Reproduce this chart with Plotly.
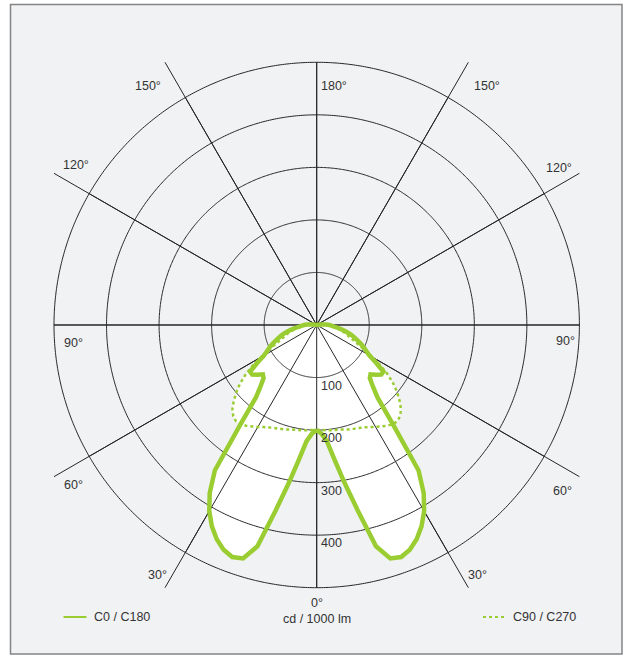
import numpy as np
import plotly.graph_objects as go

# ---------------- data ----------------
GAMMA = [0, 2.5, 5, 7.5, 10, 12.5, 15, 17.5, 20, 22.5, 25, 27.5, 30, 32.5, 35,
         37.5, 40, 42.5, 45, 47.5, 50, 52.5, 55, 57.5, 60, 62.5, 65, 67.5, 70,
         72.5, 75, 77.5, 80, 82.5, 85, 87.5, 90, 92.5, 95, 97.5, 100, 105, 120,
         150, 180]
C0_C180 = [200, 207, 222, 258, 305, 362, 436, 466, 470, 463, 450, 432, 409, 379,
           338, 238, 180, 158, 143, 139, 147, 155, 155, 134, 116, 106, 98, 89, 81,
           73, 66, 57, 48, 40, 33, 28, 24, 18, 12, 7, 4, 0, 0, 0, 0]
C90_C270 = [200, 200, 201, 202, 203, 204, 206, 208, 210, 212, 215, 219, 224, 229,
            234, 238, 239, 235, 227, 214, 200, 184, 166, 145, 122, 102, 87, 75, 66,
            60, 54, 47, 41, 36, 31, 26, 21, 15, 10, 6, 3, 0, 0, 0, 0]
RING_VALUES = [100, 200, 300, 400, 500]
RING_LABELS = ["100", "200", "300", "400"]
SPOKE_ANGLES = [0, 30, 60, 90, 120, 150, 180, 210, 240, 270, 300, 330]
ANGLE_LABELS = ["0°", "30°", "30°", "60°", "60°", "90°", "90°", "120°", "120°",
                "150°", "150°", "180°"]
SERIES_NAMES = ["C0 / C180", "C90 / C270"]
UNIT_LABEL = "cd / 1000 lm"
R_MAX = 500

# ---------------- layout constants ----------------
W, H = 623, 656
CX, CY, RAD = 316.7, 325.0, 262.7      # centre and pixel radius of the 500 ring
R_RANGE = 506                           # small headroom so the outer ring is not clipped
RAD_DOM = RAD * R_RANGE / R_MAX
GREEN = "#9acd32"
GRID = "#262626"
TXT = "#333333"
BG = "#f1f2f4"
FONT = "Liberation Sans, Arial, sans-serif"
FS = 12.5
# pixel centres of the angle labels (same order as ANGLE_LABELS)
LABEL_POS = [(316.5, 603), (157, 575), (477, 575), (73, 485), (562, 490.5),
             (73, 343), (565, 340.5), (76, 165), (559, 168), (147.5, 86),
             (486.5, 85.5), (334, 85.5)]


def px(x):
    return x / W


def py(y):
    return 1 - y / H


def mirrored(values):
    """C0 on the right (theta=+gamma), C180 on the left (theta=-gamma)."""
    th = list(GAMMA) + [-g for g in reversed(GAMMA)]
    r = list(values) + list(reversed(values))
    return th, r


fig = go.Figure()

# spokes reaching out to the square around the outer ring (cartesian layer, below polar)
cx_s, cy_s = [], []
sp_r, sp_th = [], []
for a in SPOKE_ANGLES:
    rad = np.deg2rad(a)
    reach = R_MAX / max(abs(np.sin(rad)), abs(np.cos(rad)))
    cx_s += [0, reach * np.sin(rad), None]
    cy_s += [0, -reach * np.cos(rad), None]
    sp_r += [0, R_MAX, None]
    sp_th += [a, a, None]
fig.add_trace(go.Scatter(x=cx_s, y=cy_s, mode="lines", line=dict(color=GRID, width=1),
                         hoverinfo="skip", showlegend=False, cliponaxis=False))

th0, r0 = mirrored(C0_C180)
th90, r90 = mirrored(C90_C270)

# white fills
for th, r in ((th90, r90), (th0, r0)):
    fig.add_trace(go.Scatterpolar(r=r, theta=th, mode="lines", fill="toself",
                                  fillcolor="white", line=dict(width=0, color="white"),
                                  hoverinfo="skip", showlegend=False))

# ring grid
circ_th = np.linspace(0, 360, 721)
for rv in RING_VALUES:
    fig.add_trace(go.Scatterpolar(r=[rv] * len(circ_th), theta=circ_th, mode="lines",
                                  line=dict(color=GRID, width=1), hoverinfo="skip",
                                  showlegend=False))

# spokes inside the rings (above the white fills)
fig.add_trace(go.Scatterpolar(r=sp_r, theta=sp_th, mode="lines",
                              line=dict(color=GRID, width=1), hoverinfo="skip",
                              showlegend=False, connectgaps=False))

# curves
fig.add_trace(go.Scatterpolar(r=r0, theta=th0, mode="lines", name=SERIES_NAMES[0],
                              line=dict(color=GREEN, width=4.5), showlegend=False))
fig.add_trace(go.Scatterpolar(r=r90, theta=th90, mode="lines", name=SERIES_NAMES[1],
                              line=dict(color=GREEN, width=2.5, dash="dot"),
                              showlegend=False))

annotations = []
# ring value labels, just below each ring on the 0° spoke
for v, lab in zip(RING_VALUES, RING_LABELS):
    annotations.append(dict(x=px(CX + 2.0), y=py(CY + v * RAD / R_MAX + 8.3),
                            xref="paper", yref="paper", text=lab, showarrow=False,
                            xanchor="left", yanchor="middle",
                            font=dict(family=FONT, size=FS, color=TXT)))
for lab, (x, y) in zip(ANGLE_LABELS, LABEL_POS):
    annotations.append(dict(x=px(x), y=py(y), xref="paper", yref="paper", text=lab,
                            showarrow=False, xanchor="center", yanchor="middle",
                            font=dict(family=FONT, size=FS, color=TXT)))
annotations.append(dict(x=px(316.5), y=py(619), xref="paper", yref="paper",
                        text=UNIT_LABEL, showarrow=False, xanchor="center",
                        yanchor="middle", font=dict(family=FONT, size=FS, color=TXT)))
annotations.append(dict(x=px(92), y=py(617), xref="paper", yref="paper",
                        text=SERIES_NAMES[0], showarrow=False, xanchor="left",
                        yanchor="middle", font=dict(family=FONT, size=FS, color=TXT)))
annotations.append(dict(x=px(510.5), y=py(617), xref="paper", yref="paper",
                        text=SERIES_NAMES[1], showarrow=False, xanchor="left",
                        yanchor="middle", font=dict(family=FONT, size=FS, color=TXT)))

shapes = [
    dict(type="rect", xref="paper", yref="paper", x0=px(10.5), x1=px(622), y0=py(654),
         y1=py(4.5), fillcolor=BG, line=dict(color="#858585", width=1.5), layer="below"),
    dict(type="line", xref="paper", yref="paper", x0=px(63.5), x1=px(86.5), y0=py(617),
         y1=py(617), line=dict(color=GREEN, width=2)),
    dict(type="line", xref="paper", yref="paper", x0=px(483), x1=px(505.5), y0=py(617),
         y1=py(617), line=dict(color=GREEN, width=2, dash="dot")),
]

dom_x = [px(CX - RAD_DOM), px(CX + RAD_DOM)]
dom_y = [py(CY + RAD_DOM), py(CY - RAD_DOM)]
fig.update_layout(
    width=W, height=H, margin=dict(l=0, r=0, t=0, b=0),
    paper_bgcolor="white", plot_bgcolor="rgba(0,0,0,0)", showlegend=False,
    xaxis=dict(domain=dom_x, range=[-R_RANGE, R_RANGE], visible=False, fixedrange=True),
    yaxis=dict(domain=dom_y, range=[-R_RANGE, R_RANGE], visible=False, fixedrange=True),
    polar=dict(
        domain=dict(x=dom_x, y=dom_y),
        bgcolor="rgba(0,0,0,0)",
        angularaxis=dict(rotation=270, direction="counterclockwise", showgrid=False,
                         showline=False, showticklabels=False, ticks=""),
        radialaxis=dict(range=[0, R_RANGE], visible=False, showgrid=False),
    ),
    annotations=annotations, shapes=shapes,
)

fig.write_html("out.html", config={"displayModeBar": False},
               post_script="document.body.style.margin='0';document.body.style.overflow='hidden';")
